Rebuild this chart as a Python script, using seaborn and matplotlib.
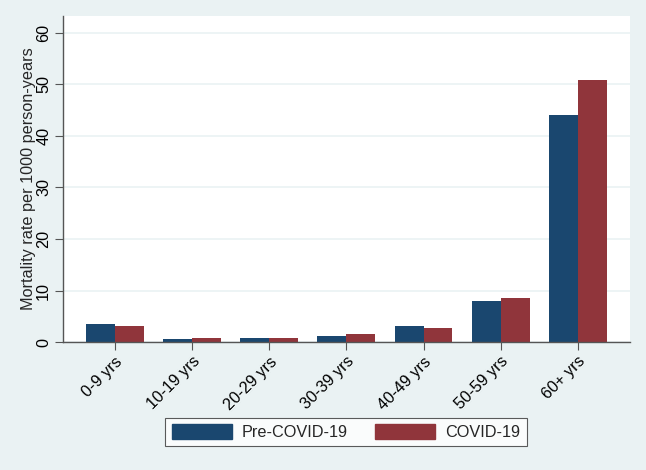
import pandas as pd
import seaborn as sns
import matplotlib.pyplot as plt

age_groups = ['0-9 yrs', '10-19 yrs', '20-29 yrs', '30-39 yrs', '40-49 yrs', '50-59 yrs', '60+ yrs']
pre_covid = [3.5, 0.5, 0.8, 1.2, 3.1, 8.0, 44.1]
covid = [3.2, 0.8, 0.8, 1.5, 2.8, 8.5, 50.8]
periods = ['Pre-COVID-19', 'COVID-19']
colors = ['#1A476F', '#90353B']

df = pd.DataFrame({
    'age': age_groups * 2,
    'rate': pre_covid + covid,
    'period': [periods[0]] * len(age_groups) + [periods[1]] * len(age_groups),
})

sns.set_style('white')
plt.rcParams['font.family'] = ['Liberation Sans', 'DejaVu Sans']

fs = 11.7
bg = '#EAF2F3'
fig = plt.figure(figsize=(6.46, 4.70), dpi=100, facecolor=bg)
ax = fig.add_axes([0.0975, 0.2723, 0.8775, 0.6937])
ax.set_facecolor('white')

sns.barplot(data=df, x='age', y='rate', hue='period', palette=colors,
            width=0.75, saturation=1, ax=ax, legend=False, edgecolor='none')

ax.set_xlim(-0.674, 6.674)
ax.set_ylim(0, 63.3)
ax.set_yticks(range(0, 70, 10))
ax.yaxis.grid(True, color='#EAF2F3', linewidth=1.2)
ax.set_axisbelow(True)

for s in ['top', 'right']:
    ax.spines[s].set_visible(False)
for s in ['left', 'bottom']:
    ax.spines[s].set_color('#555555')
    ax.spines[s].set_linewidth(1.0)

ax.tick_params(axis='both', direction='out', length=6, pad=2.5, color='#555555',
               labelsize=fs, labelcolor='black', left=True, bottom=True)
plt.setp(ax.get_yticklabels(), rotation=90, va='center')
plt.setp(ax.get_xticklabels(), rotation=45, ha='right', rotation_mode='anchor')

ax.set_xlabel('')
ax.set_ylabel('Mortality rate per 1000 person-years', fontsize=fs, labelpad=0)

handles = [plt.Rectangle((0, 0), 1, 1, color=c) for c in colors]
leg = fig.legend(handles, periods, loc='center', bbox_to_anchor=(346 / 646, 1 - 432 / 470),
                 ncol=2, fontsize=fs, frameon=True, fancybox=False,
                 handlelength=3.7, handleheight=1.0, columnspacing=1.7,
                 borderpad=0.4, handletextpad=0.6)
leg.get_frame().set_edgecolor('#333333')
leg.get_frame().set_linewidth(0.8)

fig.savefig('out.png', dpi=100, facecolor=bg)
